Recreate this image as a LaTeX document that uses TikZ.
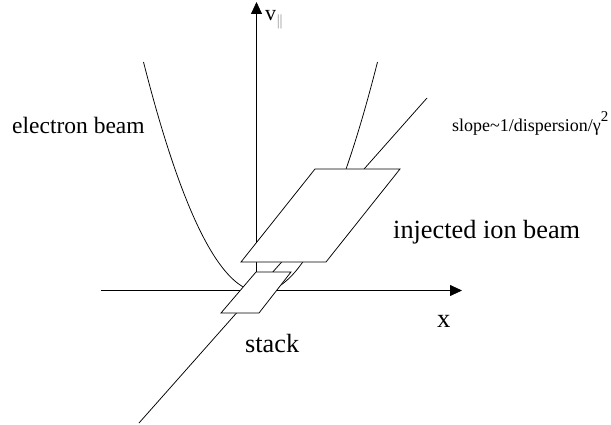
\documentclass[tikz,border=0pt]{standalone}
\usepackage{fontspec}
\setmainfont{Liberation Serif}
\usetikzlibrary{arrows.meta}
\tikzset{
  ln/.style={line width=0.75pt, black},
  axis/.style={ln, -{Triangle[length=12pt,width=11pt]}},
  beambox/.style={ln, fill=white, line join=miter},
  lbl/.style={inner sep=0pt, anchor=base west},
}
\begin{document}
\begin{tikzpicture}[x=1pt,y=-1pt]
\useasboundingbox (0,0) rectangle (611,425);
% axes
\coordinate (xs) at (101,290.5);
\coordinate (xe) at (462,290.5);
\coordinate (ys) at (256.5,300);
\coordinate (ye) at (256.5,2);
\draw[axis] (xs) -- (xe);
\draw[axis] (ys) -- (ye);
% electron beam (parabola)
\draw[ln] plot[domain=-117:117, samples=120] ({260.5+\x},{292-0.0168*\x*\x});
% slope line
\coordinate (s1) at (139,423);
\coordinate (s2) at (427,98);
\draw[ln] (s1) -- (s2);
% stack
\draw[beambox] (221,313) -- (256,272) -- (291,272) -- (259,313) -- cycle;
% injected ion beam
\draw[beambox] (241,262) -- (315,169) -- (400,169) -- (326,262) -- cycle;
% labels
\node[lbl, font=\fontsize{23.5}{26}\selectfont] (eb) at (12,134) {electron beam};
\node[lbl, font=\fontsize{18}{20}\selectfont] (sl) at (452,132) {slope\textasciitilde 1/dispersion/γ\raisebox{10pt}{\fontsize{15}{15}\selectfont 2}};
\node[lbl, font=\fontsize{26.3}{29}\selectfont] (ib) at (393,238) {injected ion beam};
\node[lbl, font=\fontsize{26.5}{29}\selectfont] (xl) at (437,327) {x};
\node[lbl, font=\fontsize{26.3}{29}\selectfont] (st) at (245,352) {stack};
\node[lbl, font=\fontsize{22}{24}\selectfont] (vl) at (265,21) {v\raisebox{-5pt}{\color{black!55}$\scriptstyle\parallel$}};
\end{tikzpicture}
\end{document}
